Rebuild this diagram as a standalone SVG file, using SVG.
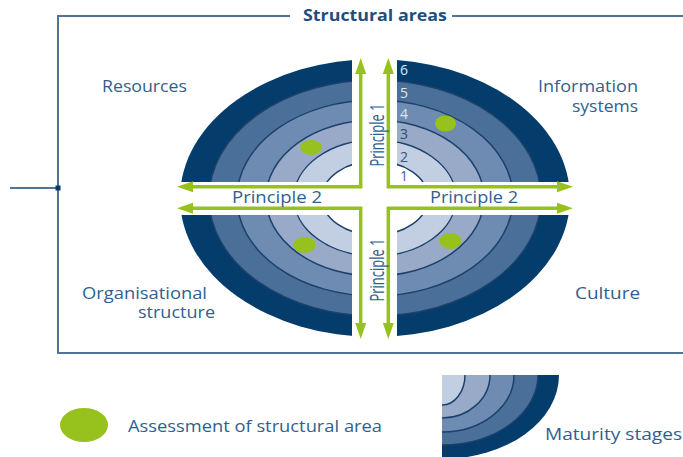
<svg xmlns="http://www.w3.org/2000/svg" width="683" height="457" viewBox="0 0 683 457">
  <style>
    .frame { fill: none; stroke: #4f7399; stroke-width: 2; }
    .lbl { font-family: "Open Sans", "Noto Sans", sans-serif; font-size: 16px; fill: #2f5f90; }
    .title { font-family: "Open Sans", "Noto Sans", sans-serif; font-size: 15.5px; font-weight: bold; fill: #1f4d7d; }
    .num { font-family: "Open Sans", "Noto Sans", sans-serif; font-size: 14px; text-anchor: middle; }
    .ring { stroke: #1d416b; stroke-width: 1.5; }
    .g6 { fill: #043c6b; }
    .g5 { fill: #4a6f99; }
    .g4 { fill: #6e8bb1; }
    .g3 { fill: #98aac8; }
    .g2 { fill: #c2cee1; }
    .g1 { fill: #ffffff; }
    .arrow { fill: none; stroke: #97c21d; stroke-width: 3.5; marker-start: url(#head); marker-end: url(#head); }
    .dot { fill: #97c21d; }
  </style>
  <defs>
    <marker id="head" markerUnits="userSpaceOnUse" markerWidth="18" markerHeight="12" refX="6" refY="6" orient="auto-start-reverse">
      <path d="M0,0.5 L16,6 L0,11.5 Z" fill="#97c21d"/>
    </marker>
    <!-- four quadrants separated by a cross-shaped gap -->
    <clipPath id="quadrants">
      <rect x="0" y="0" width="352" height="182"/>
      <rect x="397" y="0" width="286" height="182"/>
      <rect x="0" y="215" width="352" height="242"/>
      <rect x="397" y="215" width="286" height="242"/>
    </clipPath>
    <clipPath id="legendQuarter">
      <rect x="442" y="375" width="241" height="82"/>
    </clipPath>
  </defs>

  <!-- frame around the structural areas -->
  <g id="frame">
    <path class="frame" d="M290,16 H58 V353 H683"/>
    <path class="frame" d="M452,16 H683"/>
    <path class="frame" d="M10,188 H58"/>
    <rect x="55.5" y="185.5" width="5" height="5" fill="#0b3a66"/>
    <text class="title" x="375" y="21" text-anchor="middle" textLength="144" lengthAdjust="spacingAndGlyphs">Structural areas</text>
  </g>

  <!-- maturity rings, split into four quadrants -->
  <g id="rings" clip-path="url(#quadrants)">
    <ellipse class="g6" cx="375" cy="198" rx="195" ry="139"/>
    <ellipse class="g5 ring" cx="375" cy="198" rx="166" ry="118"/>
    <ellipse class="g4 ring" cx="375" cy="198" rx="138" ry="98"/>
    <ellipse class="g3 ring" cx="375" cy="198" rx="109" ry="78"/>
    <ellipse class="g2 ring" cx="375" cy="198" rx="81" ry="58"/>
    <ellipse class="g1 ring" cx="375" cy="198" rx="53" ry="37"/>
  </g>

  <!-- stage numbers -->
  <g id="stages">
    <text class="num" x="404" y="75" fill="#dfe6ef">6</text>
    <text class="num" x="404" y="98" fill="#dfe6ef">5</text>
    <text class="num" x="404" y="119" fill="#dfe6ef">4</text>
    <text class="num" x="404" y="138.5" fill="#2b4f7a">3</text>
    <text class="num" x="404" y="162" fill="#2f5684">2</text>
    <text class="num" x="404" y="181" fill="#3a6595">1</text>
  </g>

  <!-- principle arrows -->
  <g id="connectors">
    <path id="arrow-tl" class="arrow" d="M187,186.7 H360.7 V68"/>
    <path id="arrow-tr" class="arrow" d="M563,186.7 H388.3 V68"/>
    <path id="arrow-bl" class="arrow" d="M187,208.3 H360.7 V329"/>
    <path id="arrow-br" class="arrow" d="M563,208.3 H388.3 V329"/>
  </g>

  <g id="principle-labels">
    <text class="lbl" x="232" y="203" textLength="90" lengthAdjust="spacingAndGlyphs">Principle 2</text>
    <text class="lbl" x="430" y="203" textLength="88" lengthAdjust="spacingAndGlyphs">Principle 2</text>
    <text class="lbl" transform="translate(384,135) rotate(-90)" x="0" y="0" text-anchor="middle" style="font-size:20px" textLength="63" lengthAdjust="spacingAndGlyphs">Principle 1</text>
    <text class="lbl" transform="translate(384,270) rotate(-90)" x="0" y="0" text-anchor="middle" style="font-size:20px" textLength="63" lengthAdjust="spacingAndGlyphs">Principle 1</text>
  </g>

  <!-- assessment markers -->
  <g id="assessments">
    <ellipse class="dot" cx="311" cy="147.5" rx="11" ry="7.5"/>
    <ellipse class="dot" cx="445.5" cy="123.5" rx="10.5" ry="8"/>
    <ellipse class="dot" cx="304.5" cy="245" rx="11" ry="8"/>
    <ellipse class="dot" cx="450.5" cy="241" rx="11" ry="8"/>
  </g>

  <!-- structural area names -->
  <g id="area-resources">
    <text class="lbl" x="102" y="92" textLength="85" lengthAdjust="spacingAndGlyphs">Resources</text>
  </g>
  <g id="area-information-systems">
    <text class="lbl" x="538" y="92" textLength="100" lengthAdjust="spacingAndGlyphs">Information</text>
    <text class="lbl" x="572" y="112" textLength="66" lengthAdjust="spacingAndGlyphs">systems</text>
  </g>
  <g id="area-organisational-structure">
    <text class="lbl" x="82" y="298.5" style="font-size:15.5px" textLength="125" lengthAdjust="spacingAndGlyphs">Organisational</text>
    <text class="lbl" x="138" y="318" style="font-size:15.5px" textLength="77" lengthAdjust="spacingAndGlyphs">structure</text>
  </g>
  <g id="area-culture">
    <text class="lbl" x="575" y="299" textLength="65" lengthAdjust="spacingAndGlyphs">Culture</text>
  </g>

  <!-- legend -->
  <g id="legend-assessment">
    <ellipse class="dot" cx="84" cy="425" rx="24" ry="17"/>
    <text class="lbl" x="128" y="431.5" textLength="254" lengthAdjust="spacingAndGlyphs">Assessment of structural area</text>
  </g>
  <g id="legend-maturity">
    <g clip-path="url(#legendQuarter)">
      <ellipse class="g6" cx="442" cy="375" rx="117" ry="84"/>
      <ellipse class="g5 ring" cx="442" cy="375" rx="96" ry="70"/>
      <ellipse class="g4 ring" cx="442" cy="375" rx="72" ry="57"/>
      <ellipse class="g3 ring" cx="442" cy="375" rx="48" ry="43"/>
      <ellipse class="g2 ring" cx="442" cy="375" rx="23" ry="30"/>
    </g>
    <text class="lbl" x="545" y="440" textLength="137" lengthAdjust="spacingAndGlyphs">Maturity stages</text>
  </g>
</svg>
